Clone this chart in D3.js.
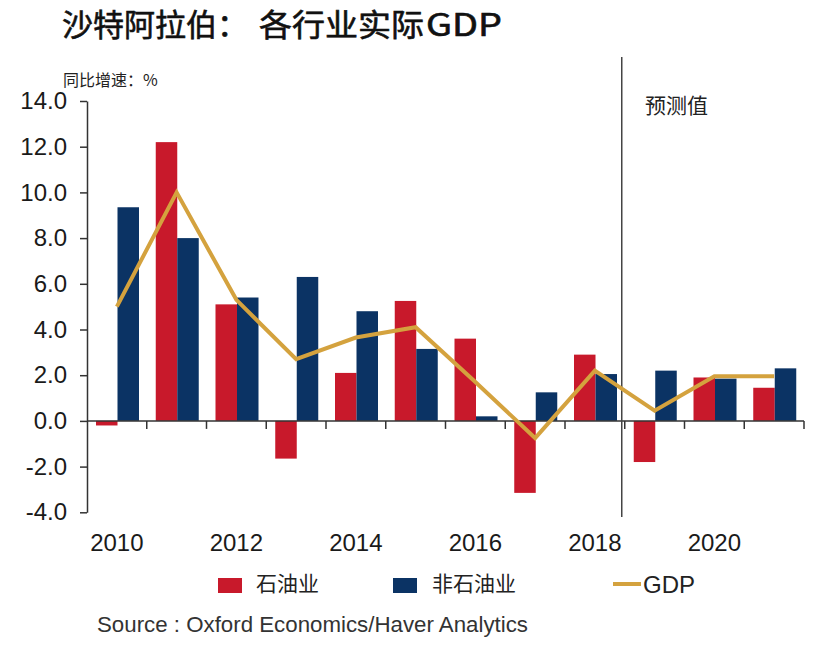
<!DOCTYPE html>
<html>
<head>
<meta charset="utf-8">
<script src="https://cdn.jsdelivr.net/npm/d3@7"></script>
<style>
  html, body { margin: 0; padding: 0; background: #fff; }
  svg { display: block; }
</style>
</head>
<body>
<svg id="chart" width="830" height="651"></svg>
<script>
// ---- data ----
const years = ["2010","2011","2012","2013","2014","2015","2016","2017","2018","2019","2020","2021"];
const oil    = [-0.2, 12.2, 5.1, -1.65, 2.1, 5.25, 3.6, -3.15, 2.9, -1.8, 1.9, 1.45];
const nonOil = [9.35, 8.0, 5.4, 6.3, 4.8, 3.15, 0.2, 1.25, 2.05, 2.2, 1.85, 2.3];
const gdp    = [5.0, 10.0, 5.3, 2.7, 3.65, 4.1, 1.7, -0.75, 2.2, 0.45, 1.95, 1.95];
const yTicks = [-4, -2, 0, 2, 4, 6, 8, 10, 12, 14];
const yearLabels = ["2010","2012","2014","2016","2018","2020"];
const seriesNames = ["石油业", "非石油业", "GDP"];
const forecastStart = "2019";

const RED = "#c8192b", BLUE = "#0b3364", GOLD = "#d4a23e";
const latin = "'Liberation Sans', Arial, sans-serif";
const cjk = "'Noto Sans CJK SC', sans-serif";

const svg = d3.select("#chart");

const x = d3.scaleBand().domain(years).range([87, 804]).paddingInner(0).paddingOuter(0);
const xs = d3.scaleBand().domain(["oil","nonOil"]).range([9, 52]);
const y = d3.scaleLinear().domain([-4, 14]).range([512.3, 101]);

// Title
const title = svg.append("g").attr("font-family", cjk).attr("font-size", 31).attr("fill", "#111")
  .attr("stroke", "#111").attr("stroke-width", 0.6);
title.append("text").attr("x", 62).attr("y", 36).text("沙特阿拉伯：");
title.append("text").attr("x", 259).attr("y", 36)
  .attr("textLength", 165).attr("lengthAdjust", "spacingAndGlyphs").text("各行业实际");
title.append("text").attr("x", 426).attr("y", 36)
  .attr("textLength", 76).attr("lengthAdjust", "spacingAndGlyphs").text("GDP");

// unit label
svg.append("text").attr("x", 63).attr("y", 86).attr("font-family", cjk).attr("font-size", 16)
  .attr("fill", "#222").text("同比增速：%");

// Y axis
const yAxis = d3.axisLeft(y).tickValues(yTicks).tickSize(7).tickSizeOuter(0).tickPadding(13)
  .tickFormat(d => d.toFixed(1));
const gy = svg.append("g").attr("transform", "translate(87,0)").call(yAxis);
gy.select(".domain").attr("stroke", "#333").attr("stroke-width", 1.5);
gy.selectAll(".tick line").attr("stroke", "#333").attr("stroke-width", 1.5);
gy.selectAll(".tick text").attr("font-family", latin).attr("font-size", 24).attr("fill", "#1a1a1a");

// Bars
const data = years.map((yr, i) => ({ year: yr, oil: oil[i], nonOil: nonOil[i], gdp: gdp[i] }));
const groups = svg.append("g").selectAll("g").data(data).join("g")
  .attr("transform", d => `translate(${x(d.year)},0)`);
groups.append("rect")
  .attr("x", xs("oil")).attr("width", xs.bandwidth())
  .attr("y", d => y(Math.max(0, d.oil))).attr("height", d => Math.abs(y(d.oil) - y(0)))
  .attr("fill", RED);
groups.append("rect")
  .attr("x", xs("nonOil")).attr("width", xs.bandwidth())
  .attr("y", d => y(Math.max(0, d.nonOil))).attr("height", d => Math.abs(y(d.nonOil) - y(0)))
  .attr("fill", BLUE);

// X axis (zero line with boundary ticks)
const gx = svg.append("g");
gx.append("line").attr("x1", x.range()[0]).attr("x2", x.range()[1])
  .attr("y1", y(0)).attr("y2", y(0)).attr("stroke", "#333").attr("stroke-width", 1.5);
gx.selectAll("line.tk").data(years).join("line").attr("class", "tk")
  .attr("x1", d => x(d) + x.bandwidth()).attr("x2", d => x(d) + x.bandwidth())
  .attr("y1", y(0)).attr("y2", y(0) + 8).attr("stroke", "#333").attr("stroke-width", 1.5);
gx.selectAll("text").data(yearLabels).join("text")
  .attr("x", d => x(d) + x.bandwidth() / 2).attr("y", 551)
  .attr("text-anchor", "middle").attr("font-family", latin).attr("font-size", 24)
  .attr("fill", "#1a1a1a").text(d => d);

// Forecast divider
const fx = x(forecastStart) - 3;
svg.append("line").attr("x1", fx).attr("x2", fx).attr("y1", 57).attr("y2", 517)
  .attr("stroke", "#444").attr("stroke-width", 1.5);
svg.append("text").attr("x", 645).attr("y", 113).attr("font-family", cjk).attr("font-size", 21)
  .attr("fill", "#222").text("预测值");

// GDP line
const line = d3.line().x(d => x(d.year) + x.bandwidth() / 2).y(d => y(d.gdp));
svg.append("path").datum(data).attr("d", line).attr("fill", "none")
  .attr("stroke", GOLD).attr("stroke-width", 4).attr("stroke-linejoin", "miter");

// Legend
const lg = svg.append("g");
lg.append("rect").attr("x", 218).attr("y", 578).attr("width", 24).attr("height", 15).attr("fill", RED);
lg.append("text").attr("x", 256).attr("y", 591).attr("font-family", cjk).attr("font-size", 21)
  .attr("fill", "#222").text(seriesNames[0]);
lg.append("rect").attr("x", 393).attr("y", 578).attr("width", 24).attr("height", 15).attr("fill", BLUE);
lg.append("text").attr("x", 432).attr("y", 591).attr("font-family", cjk).attr("font-size", 21)
  .attr("fill", "#222").text(seriesNames[1]);
lg.append("line").attr("x1", 613).attr("x2", 641).attr("y1", 584).attr("y2", 584)
  .attr("stroke", GOLD).attr("stroke-width", 4);
lg.append("text").attr("x", 643).attr("y", 593).attr("font-family", latin).attr("font-size", 24)
  .attr("fill", "#222").text(seriesNames[2]);

// Source
svg.append("text").attr("x", 97).attr("y", 632).attr("font-family", latin).attr("font-size", 22.5)
  .attr("fill", "#333").attr("textLength", 431).attr("lengthAdjust", "spacingAndGlyphs")
  .text("Source : Oxford Economics/Haver Analytics");
</script>
</body>
</html>
